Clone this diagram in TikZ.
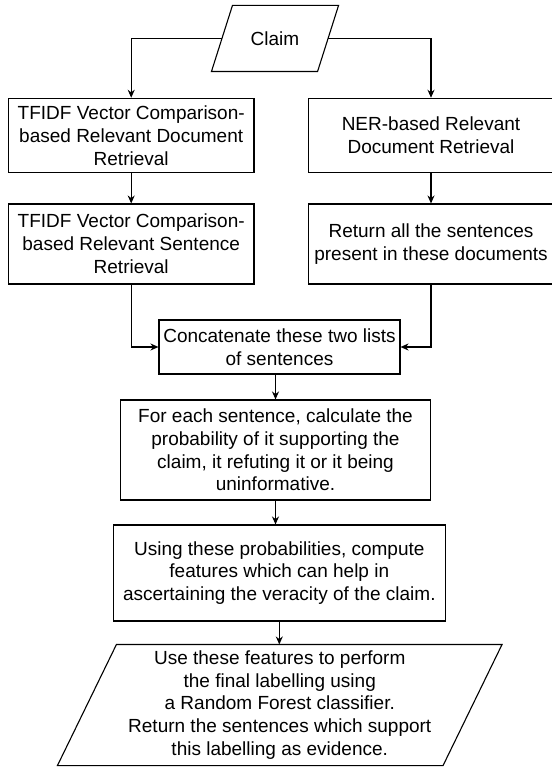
\documentclass[tikz,border=0pt]{standalone}
\usepackage{fontspec}
\setmainfont{Liberation Sans}
\usetikzlibrary{arrows.meta}

\begin{document}
\begin{tikzpicture}[x=1pt,y=-1pt,line width=1.1pt,
         txt/.style={align=center,inner sep=0pt,font=\fontsize{19}{22.8}\selectfont},
         box/.style={txt,draw,minimum width=245.6pt},
         arr/.style={-{Stealth[length=8pt,width=7pt]}}]
         \useasboundingbox (0,0) rectangle (551,767);
         \node[txt,minimum width=105pt,minimum height=65pt] (claim) at (275,38.5) {Claim};
         \draw ([xshift=10.5pt]claim.north west) -- ([xshift=10.5pt]claim.north east) -- ([xshift=-10.5pt]claim.south east) -- ([xshift=-10.5pt]claim.south west) -- cycle;
         \node[box,minimum height=74.4pt] (tfdoc) at (131.2,135.5) {TFIDF Vector Comparison-\\based Relevant Document\\Retrieval};
         \node[box,minimum height=74.4pt] (nerdoc) at (431,135.5) {NER-based Relevant\\Document Retrieval};
         \node[box,minimum height=80pt] (tfsent) at (131.2,244) {TFIDF Vector Comparison-\\based Relevant Sentence\\Retrieval};
         \node[box,minimum height=80pt] (allsent) at (431,244) {Return all the sentences\\present in these documents};
         \node[box,minimum width=241pt,minimum height=54pt] (concat) at (279.5,347) {Concatenate these two lists\\of sentences};
         \node[box,minimum width=310pt,minimum height=100pt] (prob) at (275.5,450) {For each sentence, calculate the\\probability of it supporting the\\claim, it refuting it or it being\\uninformative.};
         \node[box,minimum width=331.5pt,minimum height=96pt] (feat) at (279.3,573) {Using these probabilities, compute\\features which can help in\\ascertaining the veracity of the claim.};
         \node[txt,minimum width=384.5pt,minimum height=120pt] (label) at (279.75,705) {Use these features to perform\\the final labelling using\\a Random Forest classifier.\\Return the sentences which support\\this labelling as evidence.};
         \draw ([xshift=29.5pt]label.north west) -- ([xshift=29.5pt]label.north east) -- ([xshift=-29.5pt]label.south east) -- ([xshift=-29.5pt]label.south west) -- cycle;
         \draw[arr] (claim.west) -| (tfdoc.north);
         \draw[arr] (claim.east) -| (nerdoc.north);
         \draw[arr] (tfdoc) -- (tfsent);
         \draw[arr] (nerdoc) -- (allsent);
         \draw[arr] (tfsent.south) |- (concat.west);
         \draw[arr] (allsent.south) |- (concat.east);
         \draw[arr] (concat.south -| prob.north) ++(0,0) -- (prob.north);
         \draw[arr] (prob) -- (prob |- feat.north);
         \draw[arr] (feat) -- (feat |- label.north);
\end{tikzpicture}
\end{document}
